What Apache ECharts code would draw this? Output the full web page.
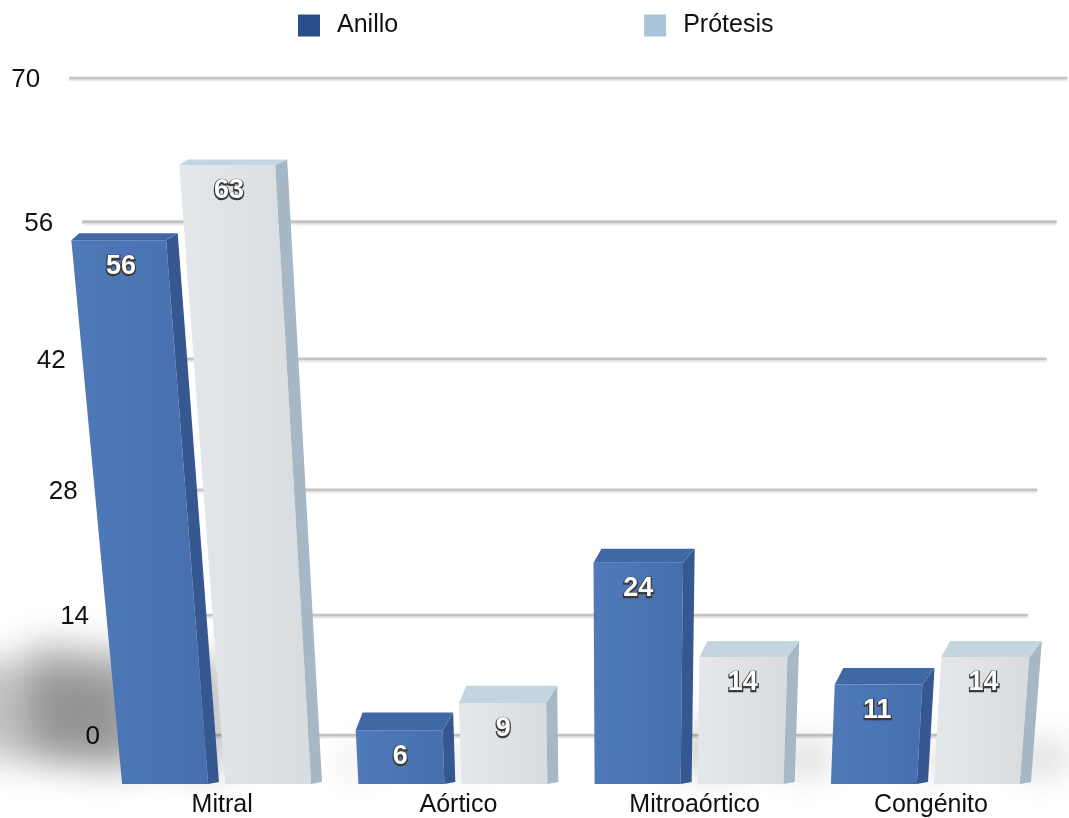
<!DOCTYPE html>
<html>
<head>
<meta charset="utf-8">
<script src="https://cdn.jsdelivr.net/npm/echarts@6/dist/echarts.min.js"></script>
<style>
  html, body { margin: 0; padding: 0; background: #ffffff; }
  #chart { width: 1069px; height: 818px; }
</style>
</head>
<body>
<div id="chart"></div>
<script>
// ---- data ----
const categories = ['Mitral', 'Aórtico', 'Mitroaórtico', 'Congénito'];
const anillo = [56, 6, 24, 11];
const protesis = [63, 9, 14, 14];
const yTicks = [0, 14, 28, 42, 56, 70];
const yMax = 70;
const seriesNames = ['Anillo', 'Prótesis'];

// ---- perspective of the 3D scene ----
// vertical edges lean toward a vanishing point far below the plot
const VP_X = 622, VP_Y = 6140;
// foreshortening of heights (upper part appears slightly stretched)
const K = -0.1063;
function warp(t) { return t * (1 + K) / (1 + K * t); }
function keystone(x, y, yRef) { return VP_X + (x - VP_X) * (VP_Y - y) / (VP_Y - yRef); }

const FONT = '"Liberation Sans", Arial, Helvetica, sans-serif';
const BAR_W = 97, BAR_GAP = 6, SIDE = 11;

const looks = {
  'Anillo':   { front: ['#4f79b9', '#466fae'], side: '#36578f', top: '#4068a5', legend: '#2c4d8b' },
  'Prótesis': { front: ['#e5e8ea', '#d8dcdf'], side: '#a6b7c5', top: '#c3d6df', legend: '#a9c4d9' }
};

function barGeom(api, si) {
  const ci = api.value(0), v = api.value(1);
  const base = api.coord([ci, 0]);
  const topLin = api.coord([ci, yMax]);
  const yb = base[1];
  const H = yb - topLin[1];
  const yt = yb - H * warp(v / yMax);
  const th = 4 + 15 * (1 - v / yMax);
  const xl = base[0] + (si === 0 ? -BAR_GAP / 2 - BAR_W : BAR_GAP / 2);
  const xr = xl + BAR_W - SIDE;
  return { v, yb, yt, th, xl, xr, xc: (xl + xr + SIDE) / 2 };
}

function barRenderer(si) {
  const look = looks[seriesNames[si]];
  return function (params, api) {
    const g = barGeom(api, si);
    const P = (x, y) => [keystone(x, y, g.yb), y];
    const front = [P(g.xl, g.yt), P(g.xr, g.yt), P(g.xr, g.yb), P(g.xl, g.yb)];
    const side = [P(g.xr, g.yt), P(g.xr + SIDE, g.yt - g.th), P(g.xr + SIDE, g.yb - 2), P(g.xr, g.yb)];
    const top = [P(g.xl, g.yt), P(g.xl + SIDE * 0.7, g.yt - g.th), P(g.xr + SIDE, g.yt - g.th), P(g.xr, g.yt)];
    const ly = g.yt + 26;
    const lx = keystone((g.xl + g.xr) / 2, ly, g.yb);
    const label = String(g.v);
    const labelFont = 'bold 27px ' + FONT;
    return {
      type: 'group',
      children: [
        { type: 'polygon', shape: { points: front },
          style: { fill: new echarts.graphic.LinearGradient(0, 0, 1, 0, [
            { offset: 0, color: look.front[0] }, { offset: 1, color: look.front[1] }]) } },
        { type: 'polygon', shape: { points: side }, style: { fill: look.side } },
        { type: 'polygon', shape: { points: top }, style: { fill: look.top } },
        // dark embossed rim under the value
        { type: 'text', style: {
            text: label, x: lx, y: ly + 1, align: 'center', verticalAlign: 'middle',
            font: labelFont, fill: '#3a3a3a', stroke: '#3a3a3a', lineWidth: 2.5,
            shadowColor: 'rgba(0,0,0,0.5)', shadowBlur: 3, shadowOffsetY: 1 } },
        { type: 'text', style: {
            text: label, x: lx, y: ly, align: 'center', verticalAlign: 'middle',
            font: labelFont, fill: '#ffffff' } }
      ]
    };
  };
}

// soft floor shadow of each bar, drawn off-canvas and shifted back via its shadow
const OFF = 3000;
function shadowRenderer(params, api) {
  const si = api.value(2);
  const g = barGeom(api, si);
  const h = g.yb - g.yt;
  const L = h * 0.33, D = Math.max(18, h * 0.18);
  let pts;
  if (g.xc < VP_X) {
    const x0 = g.xl + 8;
    pts = [[x0, g.yb - 12], [x0, g.yb - 12 - D], [x0 - L, g.yb - 12 - D - L * 0.1], [x0 - L, g.yb - 12 - L * 0.1]];
  } else {
    const x0 = g.xr + SIDE - 8;
    pts = [[x0, g.yb - 12], [x0, g.yb - 12 - D], [x0 + L, g.yb - 12 - D - L * 0.1], [x0 + L, g.yb - 12 - L * 0.1]];
  }
  return {
    type: 'polygon',
    shape: { points: pts.map(p => [p[0] + OFF, p[1]]) },
    style: { fill: '#000', shadowColor: 'rgba(0,0,0,0.24)', shadowBlur: 36, shadowOffsetX: -OFF, shadowOffsetY: 0 }
  };
}

// back-wall gridlines with their value labels
function wallRenderer(params, api) {
  const v = api.value(1);
  const p0 = api.coord([0, 0]);
  const pTop = api.coord([0, yMax]);
  const pR = api.coord([1, 0]);
  const y0 = p0[1];
  const y = y0 - (y0 - pTop[1]) * warp(v / yMax);
  const xl = keystone(p0[0], y, y0);
  const xr = keystone(pR[0], y, y0);
  return {
    type: 'group',
    children: [
      { type: 'line', shape: { x1: xl, y1: y, x2: xr, y2: y },
        style: { stroke: '#c4c4c4', lineWidth: 2.6, lineCap: 'round',
                 shadowColor: 'rgba(0,0,0,0.15)', shadowBlur: 2, shadowOffsetY: 1.5 } },
      { type: 'text', style: { text: String(v), x: xl - 30, y: y + 2, align: 'right', verticalAlign: 'middle',
                               font: '26px ' + FONT, fill: '#111111' } }
    ]
  };
}

const shadowData = [];
anillo.forEach((v, i) => shadowData.push([i, v, 0]));
protesis.forEach((v, i) => shadowData.push([i, v, 1]));

const chart = echarts.init(document.getElementById('chart'), null, { renderer: 'canvas' });
chart.setOption({
  backgroundColor: '#ffffff',
  animation: false,
  legend: {
    data: seriesNames,
    top: 8, left: 293,
    icon: 'rect', itemWidth: 22, itemHeight: 22, itemGap: 246,
    textStyle: { fontSize: 25, color: '#111111', fontFamily: FONT, padding: [0, 0, 0, 12] }
  },
  grid: [
    { left: 104, right: 20, top: 88, bottom: 33 },
    { left: 130, right: 51, top: 78, bottom: 83 }
  ],
  xAxis: [
    { type: 'category', gridIndex: 0, data: categories,
      axisLine: { show: false }, axisTick: { show: false }, splitLine: { show: false },
      axisLabel: { fontSize: 25, color: '#111111', fontFamily: FONT, margin: 9 } },
    { type: 'value', gridIndex: 1, min: 0, max: 1, show: false }
  ],
  yAxis: [
    { type: 'value', gridIndex: 0, min: 0, max: yMax, show: false },
    { type: 'value', gridIndex: 1, min: 0, max: yMax, interval: 14, show: false }
  ],
  series: [
    { type: 'custom', name: 'wall', xAxisIndex: 1, yAxisIndex: 1, z: 1, silent: true,
      renderItem: wallRenderer, data: yTicks.map(v => [0, v]) },
    { type: 'custom', name: 'floor', xAxisIndex: 0, yAxisIndex: 0, z: 2, silent: true,
      renderItem: shadowRenderer, data: shadowData },
    { type: 'custom', name: seriesNames[0], xAxisIndex: 0, yAxisIndex: 0, z: 3,
      itemStyle: { color: looks['Anillo'].legend },
      renderItem: barRenderer(0), data: anillo.map((v, i) => [i, v]) },
    { type: 'custom', name: seriesNames[1], xAxisIndex: 0, yAxisIndex: 0, z: 4,
      itemStyle: { color: looks['Prótesis'].legend },
      renderItem: barRenderer(1), data: protesis.map((v, i) => [i, v]) }
  ]
});
</script>
</body>
</html>
